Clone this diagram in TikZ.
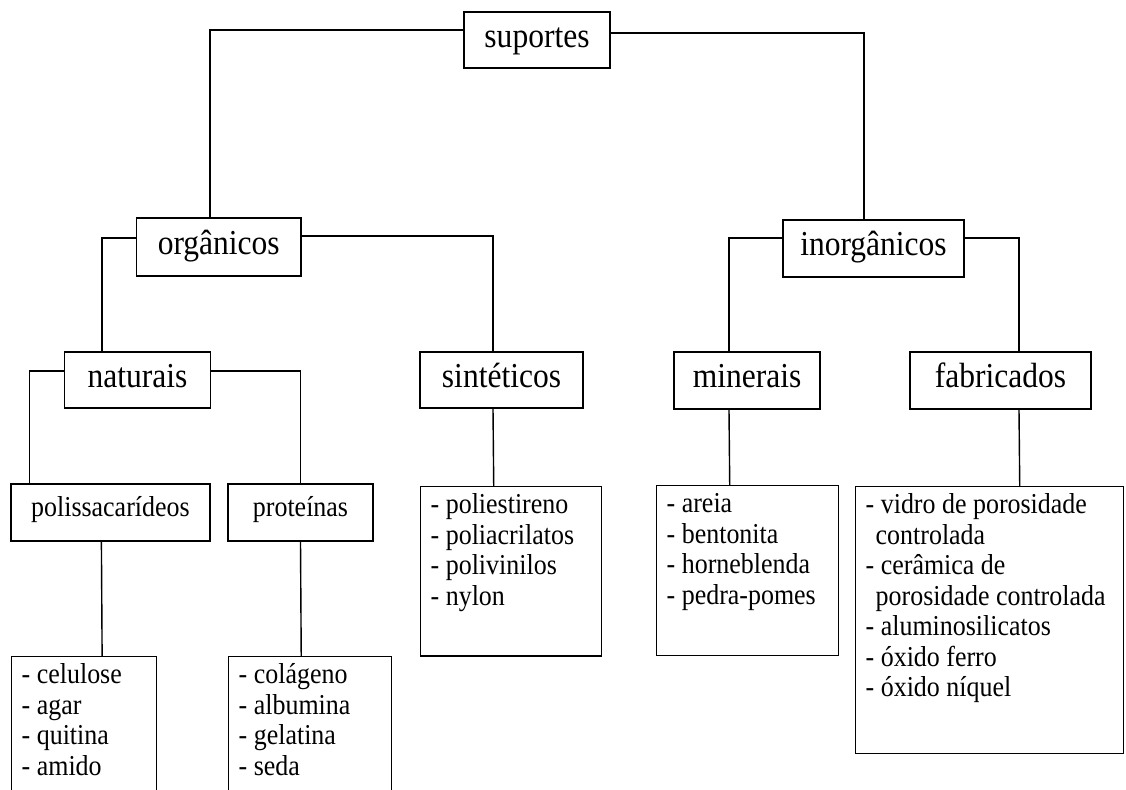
\documentclass[tikz,border=0pt]{standalone}
\usepackage{fontspec}
\setmainfont{Liberation Serif}[FakeStretch=0.9]
\usetikzlibrary{positioning,calc}
\tikzset{
  catnode/.style  = {shape=rectangle, draw, line width=1pt, inner sep=0pt,
                     text height=17pt, text depth=6.5pt,
                     font=\fontsize{24.9pt}{28pt}\selectfont},
  subnode/.style  = {catnode, text height=13.5pt, text depth=8pt,
                     font=\fontsize{20.5pt}{21.7pt}\selectfont},
  listnode/.style = {shape=rectangle, draw, line width=1pt, anchor=north west,
                     inner xsep=0.25cm, inner ysep=0.14cm,
                     font=\fontsize{20.5pt}{21.7pt}\selectfont},
  link/.style     = {line width=1pt}
}
\newcommand{\lista}[3]{\parbox[t][#1][t]{#2}{\raggedright\strut #3}}

\begin{document}
\begin{tikzpicture}[x=0.025cm, y=-0.025cm]
\useasboundingbox (0,0) rectangle (1126,790);
% categories
\node [catnode, minimum width=3.65cm,  minimum height=1.4cm]   (sup)   at (537,40)      {suportes};
\node [catnode, minimum width=4.11cm,  minimum height=1.45cm]  (org)   at (218.75,247)  {orgânicos};
\node [catnode, minimum width=4.525cm, minimum height=1.425cm] (inorg) at (873.5,248.5) {inorgânicos};
\node [catnode, minimum width=3.65cm,  minimum height=1.4cm]   (nat)   at (137.5,380)   {naturais};
\node [catnode, minimum width=4.075cm, minimum height=1.4cm]   (sint)  at (501.5,380)   {sintéticos};
\node [catnode, minimum width=3.65cm,  minimum height=1.425cm] (min)   at (747,380.5)   {minerais};
\node [catnode, minimum width=4.525cm, minimum height=1.425cm] (fab)   at (1000.5,380.5){fabricados};
\node [subnode, minimum width=4.975cm, minimum height=1.425cm] (poli)  at (110.4,512.5) {polissacarídeos};
\node [subnode, minimum width=3.625cm, minimum height=1.425cm] (prot)  at (300.5,512.5) {proteínas};
% lists
\node [listnode] (celL) at (11,656)  {\lista{3.445cm}{3.125cm}{- celulose\\- agar\\- quitina\\- amido}};
\node [listnode] (colL) at (228,656) {\lista{3.445cm}{3.565cm}{- colágeno\\- albumina\\- gelatina\\- seda}};
\node [listnode] (sinL) at (420,486) {\lista{3.95cm}{4.025cm}{- poliestireno\\- poliacrilatos\\- polivinilos\\- nylon}};
\node [listnode] (minL) at (656,485) {\lista{3.97cm}{4.05cm}{- areia\\- bentonita\\- horneblenda\\- pedra-pomes}};
\node [listnode] (fabL) at (855,486) {\lista{6.395cm}{6.2cm}{- vidro de porosidade\\\hspace*{0.25cm}controlada\\- cerâmica de\\\hspace*{0.25cm}porosidade controlada\\- aluminosilicatos\\- óxido ferro\\- óxido níquel}};
% connectors
\draw [link] ([shift={(0,-10)}]sup.west)    -| ([shift={(-8.75,0)}]org.north);
\draw [link] ([shift={(0,-7)}]sup.east)     -| ([shift={(-9.5,0)}]inorg.north);
\draw [link] ([shift={(0,-9)}]org.west)     -| ([shift={(-35.5,0)}]nat.north);
\draw [link] ([shift={(0,-11)}]org.east)    -| ([shift={(-8.5,0)}]sint.north);
\draw [link] ([shift={(0,-10.5)}]inorg.west) -| ([shift={(-18,0)}]min.north);
\draw [link] ([shift={(0,-10.5)}]inorg.east) -| ([shift={(18.5,0)}]fab.north);
\draw [link] ([shift={(0,-9)}]nat.west)     -| ([shift={(-81,0)}]poli.north);
\draw [link] ([shift={(0,-9)}]nat.east)     -| (prot.north);
\draw [link] ([shift={(-9,0)}]poli.south)   -- ([shift={(17.9,0)}]celL.north);
\draw [link] (prot.south)                   -- ([shift={(-8.8,0)}]colL.north);
\draw [link] ([shift={(-8.5,0)}]sint.south) -- ([shift={(-17.5,0)}]sinL.north);
\draw [link] ([shift={(-18,0)}]min.south)   -- ([shift={(-18,0)}]minL.north);
\draw [link] ([shift={(18.5,0)}]fab.south)  -- ([shift={(30,0)}]fabL.north);
\end{tikzpicture}
\end{document}
